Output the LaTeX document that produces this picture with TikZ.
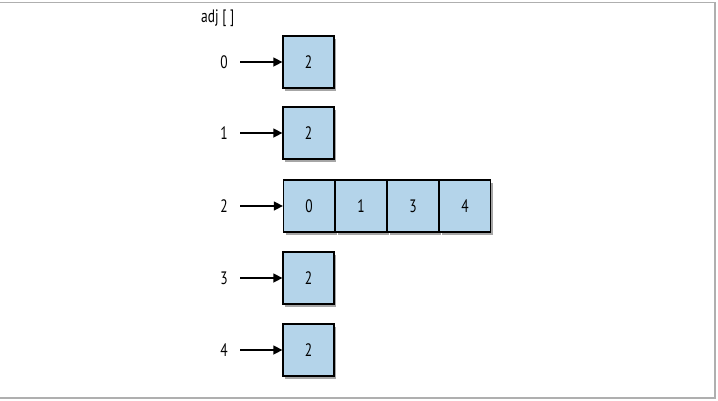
\documentclass[tikz,border=0pt]{standalone}
\usepackage{fontspec}
\setmainfont{PT Sans}
\usetikzlibrary{shadows,arrows.meta}
\definecolor{cellblue}{RGB}{180,212,234}
\definecolor{framegray}{RGB}{175,175,175}
\newcommand\cond[1]{\scalebox{0.75}[1]{#1}}
\tikzset{
  cell/.style={draw=black, line width=1.3pt, fill=cellblue, minimum width=51pt, minimum height=52pt, inner sep=0pt,
    font=\fontsize{18}{18}\selectfont,
    drop shadow={shadow xshift=2pt, shadow yshift=-2.5pt, opacity=0.35, fill=black}},
  lab/.style={font=\fontsize{18}{18}\selectfont, inner sep=0pt},
  ptr/.style={-{Triangle[length=9pt,width=9pt]}, line width=1.5pt},
}
\begin{document}
\begin{tikzpicture}[x=1pt,y=-1pt]
\useasboundingbox (0,0) rectangle (718,400);
\draw[framegray, line width=1.5pt] (0,2.5) -- (715,2.5) -- (715,398) -- (0,398);
\node[lab, anchor=west] (adj) at (201,18) {\cond{adj [ ]}};
% row 0
\node[cell] (c0) at (308.5,62) {\cond{2}};
\node[lab] (l0) at (224,62) {\cond{0}};
\coordinate (s0) at (240,62);
\draw[ptr] (s0) -- (c0.west);
% row 1
\node[cell] (c1) at (308.5,133) {\cond{2}};
\node[lab] (l1) at (224,133) {\cond{1}};
\coordinate (s1) at (240,133);
\draw[ptr] (s1) -- (c1.west);
% row 2
\node[cell] (c20) at (309,206) {\cond{0}};
\node[cell] (c21) at (361,206) {\cond{1}};
\node[cell] (c22) at (413,206) {\cond{3}};
\node[cell] (c23) at (465,206) {\cond{4}};
\node[lab] (l2) at (224,206) {\cond{2}};
\coordinate (s2) at (240,206);
\draw[ptr] (s2) -- (c20.west);
% row 3
\node[cell] (c3) at (308.5,278) {\cond{2}};
\node[lab] (l3) at (224,278) {\cond{3}};
\coordinate (s3) at (240,278);
\draw[ptr] (s3) -- (c3.west);
% row 4
\node[cell] (c4) at (308.5,350) {\cond{2}};
\node[lab] (l4) at (224,350) {\cond{4}};
\coordinate (s4) at (240,350);
\draw[ptr] (s4) -- (c4.west);
\end{tikzpicture}
\end{document}
